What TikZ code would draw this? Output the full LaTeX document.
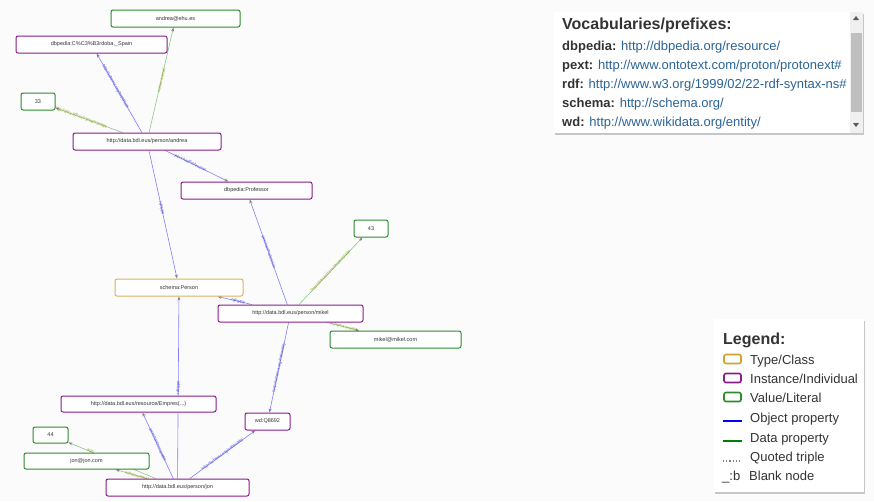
\documentclass[tikz,border=0pt]{standalone}
\usepackage{fontspec}
\setmainfont{Liberation Sans}
\usetikzlibrary{arrows.meta,backgrounds,shadows}
\definecolor{instc}{HTML}{8B1A8B}
\definecolor{valc}{HTML}{2E8B2E}
\definecolor{typec}{HTML}{D4A030}
\definecolor{objc}{HTML}{8080F8}
\definecolor{datc}{HTML}{88C888}
\definecolor{objt}{HTML}{4A4AD0}
\definecolor{datt}{HTML}{94A020}
\definecolor{txt}{HTML}{333333}
\definecolor{linkc}{HTML}{2A6496}
\definecolor{bgc}{HTML}{FBFBFC}
\tikzset{
  gnode/.style={rectangle, rounded corners=2pt, fill=white, line width=1pt, minimum height=17pt, inner sep=0pt, text=txt, font=\fontsize{5.5}{6}\selectfont},
  inst/.style={gnode, draw=instc},
  val/.style={gnode, draw=valc},
  typ/.style={gnode, draw=typec!80},
  obj/.style={draw=objc, line width=0.6pt, -{Stealth[length=4pt,width=3pt,color=gray]}},
  dat/.style={draw=datc, line width=0.6pt, -{Stealth[length=4pt,width=3pt,color=gray]}},
  olab/.style={midway, sloped, inner sep=0.5pt, text=objt, font=\fontsize{4}{4}\selectfont},
  dlab/.style={midway, sloped, inner sep=0.5pt, text=datt, font=\fontsize{4}{4}\selectfont},
  panel/.style={fill=white, draw=none, drop shadow={shadow xshift=1pt, shadow yshift=-1.5pt, opacity=0.35, fill=black!60}},
  vtxt/.style={anchor=base west, inner sep=0pt, text=txt, font=\fontsize{13}{15}\selectfont},
  swatch/.style={rounded corners=2pt, line width=1.6pt},
}
\begin{document}
\begin{tikzpicture}[x=1pt,y=-1pt]
\useasboundingbox (0,0) rectangle (874,501);
% nodes
\node[val, minimum width=129pt] (ehu) at (175.5,18.5) {andrea@ehu.es};
\node[inst, minimum width=151pt] (cord) at (91.5,44.5) {dbpedia:C\%C3\%B3rdoba,\_Spain};
\node[val, minimum width=34pt] (n33) at (38,101.5) {33};
\node[inst, minimum width=148pt] (andrea) at (147,141.5) {http://data.bdl.eus/person/andrea};
\node[inst, minimum width=131pt] (prof) at (246.5,190.5) {dbpedia:Professor};
\node[val, minimum width=34pt] (n43) at (371,228.5) {43};
\node[typ, minimum width=128pt] (person) at (179,287.5) {schema:Person};
\node[inst, minimum width=145pt] (mikel) at (290.5,313.5) {http://data.bdl.eus/person/mikel};
\node[val, minimum width=131pt] (memail) at (395.5,339.5) {mikel@mikel.com};
\node[inst, minimum width=155pt, minimum height=16pt] (empres) at (138.5,404) {http://data.bdl.eus/resource/Empres(...)};
\node[inst, minimum width=45pt] (wd) at (267.5,421.5) {wd:Q8692};
\node[val, minimum width=35pt, minimum height=16pt] (n44) at (50.5,435) {44};
\node[val, minimum width=125pt, minimum height=16pt] (jemail) at (86.5,461) {jon@jon.com};
\node[inst, minimum width=143pt] (jon) at (177.5,487.5) {http://data.bdl.eus/person/jon};
% background and edges
\begin{scope}[on background layer]
\fill[bgc] (0,0) rectangle (874,501);
\draw[obj] (andrea) -- node[olab, pos=0.58] {http://schema.org/birthPlace} (cord);
\draw[dat] (andrea) -- node[dlab] {schema:email} (ehu);
\draw[dat] (andrea) -- node[dlab, pos=0.62] {http://data.bdl.eus/property/age} (n33);
\draw[obj] (andrea) -- node[olab, pos=0.4] {pext:hasProfession} (prof);
\draw[obj] (andrea) -- node[olab, pos=0.45] {rdf:type} (person);
\draw[obj] (mikel) -- node[olab] {pext:hasProfession} (prof);
\draw[obj] (mikel) -- node[olab, pos=0.4] {rdf:type} (person);
\draw[dat] (mikel) -- node[dlab] {http://data.bdl.eus/property/age} (n43);
\draw[dat] (mikel) -- node[dlab] {schema:email} (memail);
\draw[obj] (mikel) -- node[olab] {http://schema.org/nationality} (wd);
\draw[obj] (jon) -- node[olab] {pext:hasOccupation} (empres);
\draw[obj] (jon) -- node[olab] {rdf:type} (person);
\draw[obj] (jon) -- node[olab] {http://schema.org/nationality} (wd);
\draw[dat] (jon) -- node[dlab, pos=0.75] {age} (n44);
\draw[dat] (jon) -- node[dlab, pos=0.3] {schema:email} (jemail);
\end{scope}
% vocabularies panel
\path[panel] (554,12) rectangle (863,133);
\fill[gray!12] (850,12) rectangle (863,133);
\fill[gray!50] (851,33) rectangle (862,112);
\fill[gray!70!black] (853,20) -- (859,20) -- (856,16) -- cycle;
\fill[gray!70!black] (853,123) -- (859,123) -- (856,127) -- cycle;
\node[vtxt, font=\fontsize{16}{18}\selectfont\bfseries] (vtitle) at (562,29) {Vocabularies/prefixes:};
\node[vtxt] (v1) at (562,50) {\textbf{dbpedia:} \textcolor{linkc}{http://dbpedia.org/resource/}};
\node[vtxt] (v2) at (562,69) {\textbf{pext:} \textcolor{linkc}{http://www.ontotext.com/proton/protonext\#}};
\node[vtxt] (v3) at (562,88) {\textbf{rdf:} \textcolor{linkc}{http://www.w3.org/1999/02/22-rdf-syntax-ns\#}};
\node[vtxt] (v4) at (562,107) {\textbf{schema:} \textcolor{linkc}{http://schema.org/}};
\node[vtxt] (v5) at (562,126) {\textbf{wd:} \textcolor{linkc}{http://www.wikidata.org/entity/}};
% legend panel
\path[panel] (714,319) rectangle (864,492);
\node[vtxt, font=\fontsize{16}{18}\selectfont\bfseries] (ltitle) at (723,344) {Legend:};
\draw[swatch, draw=typec] (724,354.5) rectangle (741,363.5);
\node[vtxt] (l1) at (750,364) {Type/Class};
\draw[swatch, draw=instc] (724,373.5) rectangle (741,382.5);
\node[vtxt] (l2) at (750,383) {Instance/Individual};
\draw[swatch, draw=valc] (724,392.5) rectangle (741,401.5);
\node[vtxt] (l3) at (750,402) {Value/Literal};
\draw[blue, line width=1.6pt] (723,421) -- (742,421);
\node[vtxt] (l4) at (750,422) {Object property};
\draw[green!50!black, line width=1.6pt] (723,441) -- (742,441);
\node[vtxt] (l5) at (750,442) {Data property};
\draw[gray, line width=1.2pt, dash pattern=on 1.2pt off 2pt] (723,461) -- (742,461);
\node[vtxt] (l6) at (750,461) {Quoted triple};
\node[vtxt] (l7a) at (722,480) {\_:b};
\node[vtxt] (l7) at (749,480) {Blank node};
\end{tikzpicture}
\end{document}
